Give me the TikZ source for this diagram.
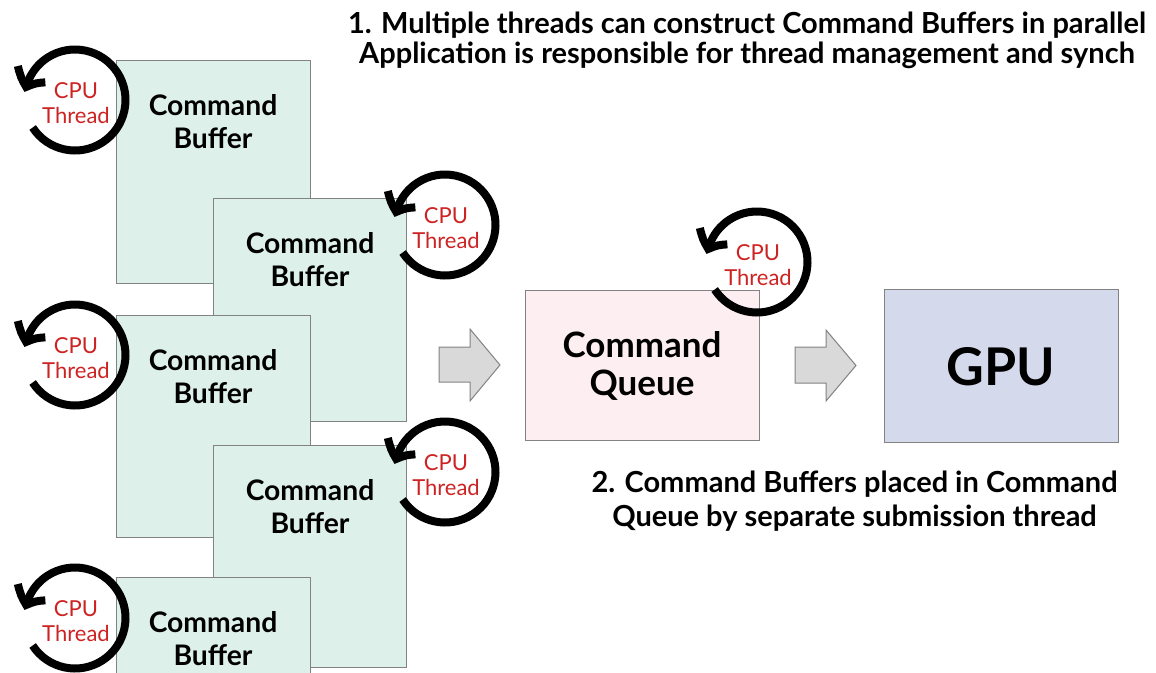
\documentclass[tikz,border=0pt]{standalone}
\usepackage{fontspec}
\setmainfont{Lato}
\usetikzlibrary{arrows.meta,bending}
\definecolor{bufferfill}{RGB}{221,240,233}
\definecolor{boxline}{RGB}{130,130,130}
\definecolor{queuefill}{RGB}{253,238,241}
\definecolor{gpufill}{RGB}{213,217,236}
\definecolor{threadred}{RGB}{205,35,35}
\definecolor{arrowfill}{RGB}{217,217,217}
\newcommand\cputhread[3]{%
  \coordinate (#1c) at (#2,#3);
  \node[threadtext] (#1) at (#2+1,#3-17.5) {CPU\\Thread};
  \draw[threadring] ([shift={(147:50.5)}]#1c) arc[start angle=147,end angle=-171,radius=50.5];
}
\begin{document}
\begin{tikzpicture}[x=1pt,y=-1pt,
  bufbox/.style={draw=boxline, fill=bufferfill, line width=1.2pt, inner sep=0pt, anchor=north west},
  bigbox/.style={draw=boxline, line width=1.2pt, inner sep=0pt, anchor=north west},
  buftext/.style={anchor=north, inner sep=0pt, align=center, font=\fontsize{28.3}{33}\selectfont\bfseries},
  threadtext/.style={anchor=north, inner sep=0pt, align=center, text=threadred, font=\fontsize{22}{25}\selectfont},
  threadring/.style={line width=8pt, -{Straight Barb[length=14pt,width=32pt,line cap=butt,line join=miter,bend]}},
  blockarrow/.style={draw=boxline, fill=arrowfill, line width=1pt, line join=miter},
  note/.style={anchor=north, inner sep=0pt, align=center, font=\fontsize{29}{30}\selectfont\bfseries},
]
\useasboundingbox (0,0) rectangle (1156,672);
\clip (0,0) rectangle (1156,672);

% command buffers
\node[bufbox, minimum width=194pt, minimum height=223pt] (b1) at (116,60) {};
\node[buftext] (b1t) at (213,94) {Command\\Buffer};
\node[bufbox, minimum width=193pt, minimum height=223pt] (b2) at (213,198) {};
\node[buftext] (b2t) at (310,232) {Command\\Buffer};
\node[bufbox, minimum width=194pt, minimum height=222pt] (b3) at (116,315) {};
\node[buftext] (b3t) at (213,349) {Command\\Buffer};
\node[bufbox, minimum width=193pt, minimum height=222pt] (b4) at (213,445) {};
\node[buftext] (b4t) at (310,479) {Command\\Buffer};
\node[bufbox, minimum width=194pt, minimum height=223pt] (b5) at (116,577) {};
\node[buftext] (b5t) at (213,611) {Command\\Buffer};

% queue and gpu
\node[bigbox, fill=queuefill, minimum width=234pt, minimum height=150pt] (q) at (525,290) {};
\node[anchor=north, inner sep=0pt, align=center, font=\fontsize{35}{38}\selectfont\bfseries] (qt) at (642,331) {Command\\Queue};
\node[bigbox, fill=gpufill, minimum width=234pt, minimum height=153pt] (g) at (884,289) {};
\node[anchor=base, inner sep=0pt, font=\fontsize{52}{60}\selectfont\bfseries] (gt) at (1001,385) {GPU};

% block arrows
\draw[blockarrow] (439,347) -- (470,347) -- (470,329) -- (500,365) -- (470,401) -- (470,382) -- (439,382) -- cycle;
\draw[blockarrow] (795,347) -- (826,347) -- (826,330) -- (856,365.5) -- (826,401) -- (826,383) -- (795,383) -- cycle;

% notes
\node[note] (n1) at (747,12) {1. Multiple threads can construct Command Buffers in parallel\\Application is responsible for thread management and synch};
\node[note, font=\fontsize{29}{34}\selectfont\bfseries] (n2) at (854.5,471) {2. Command Buffers placed in Command\\Queue by separate submission thread};

% cpu threads
\cputhread{t1}{75}{100}
\cputhread{t2}{445}{225}
\cputhread{t3}{75}{355}
\cputhread{t4}{445}{472}
\cputhread{t5}{75}{618}
\cputhread{t6}{757}{262}
\end{tikzpicture}
\end{document}
